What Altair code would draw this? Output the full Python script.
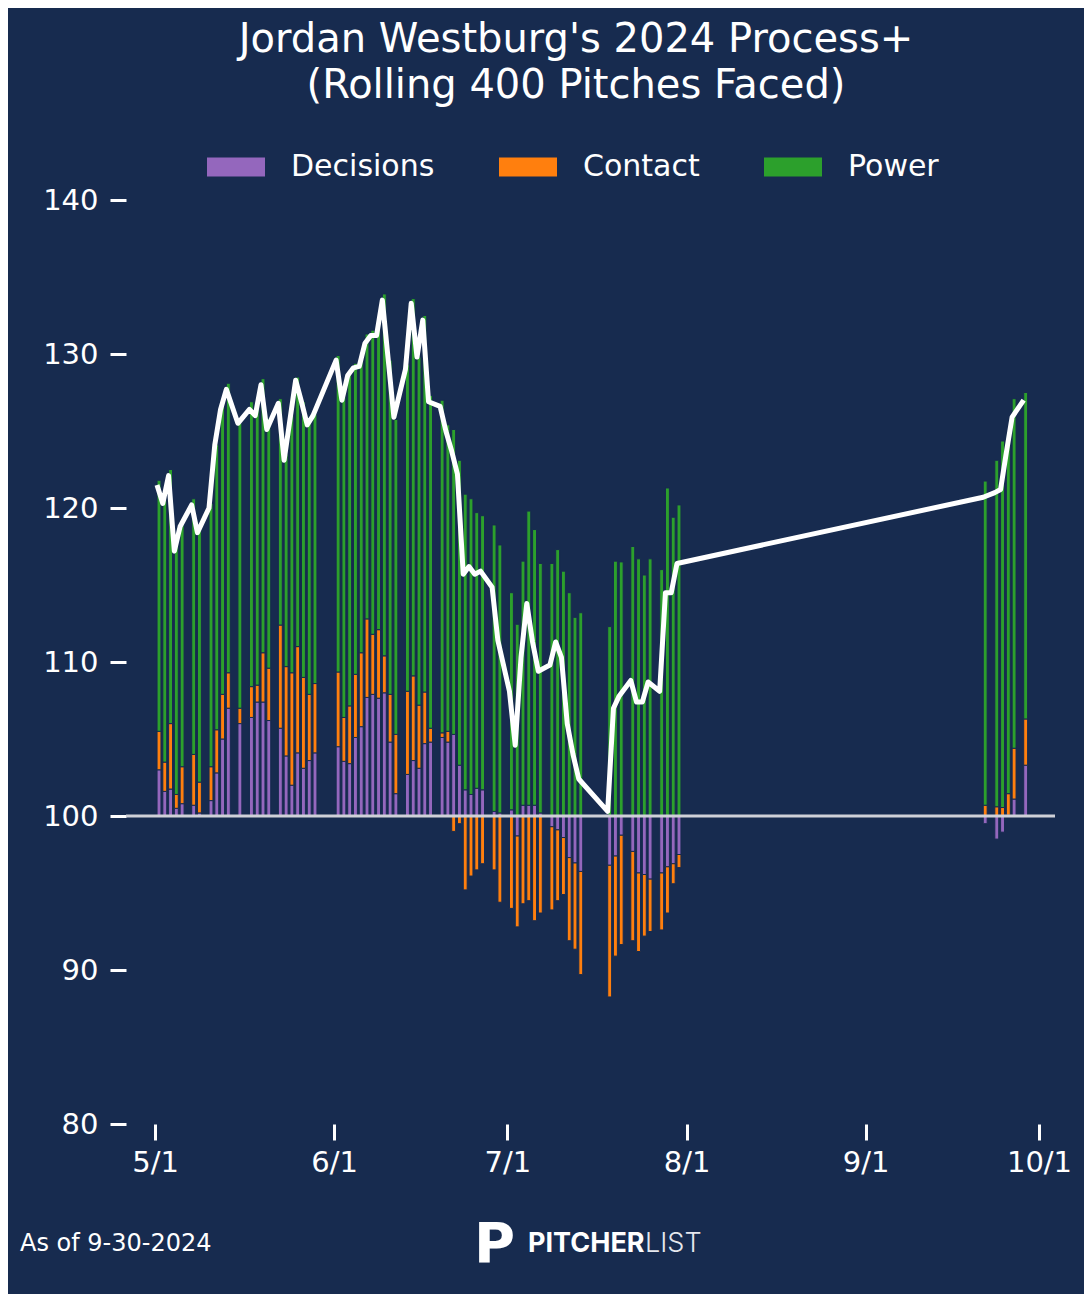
import altair as alt
import pandas as pd

# ---- data ----
dates = [
    "2024-05-01", "2024-05-02", "2024-05-03", "2024-05-04", "2024-05-05", "2024-05-07",
    "2024-05-08", "2024-05-10", "2024-05-11", "2024-05-12", "2024-05-13", "2024-05-15",
    "2024-05-17", "2024-05-18", "2024-05-19", "2024-05-20", "2024-05-22", "2024-05-23",
    "2024-05-24", "2024-05-25", "2024-05-26", "2024-05-27", "2024-05-28",
    "2024-06-01", "2024-06-02", "2024-06-03", "2024-06-04", "2024-06-05", "2024-06-06",
    "2024-06-07", "2024-06-08", "2024-06-09", "2024-06-10", "2024-06-11", "2024-06-13",
    "2024-06-14", "2024-06-15", "2024-06-16", "2024-06-17", "2024-06-19", "2024-06-20",
    "2024-06-21", "2024-06-22", "2024-06-23", "2024-06-24", "2024-06-25", "2024-06-26",
    "2024-06-28", "2024-06-29",
    "2024-07-01", "2024-07-02", "2024-07-03", "2024-07-04", "2024-07-05", "2024-07-06",
    "2024-07-08", "2024-07-09", "2024-07-10", "2024-07-11", "2024-07-12", "2024-07-13",
    "2024-07-18", "2024-07-19", "2024-07-20", "2024-07-22", "2024-07-23", "2024-07-24",
    "2024-07-25", "2024-07-27", "2024-07-28", "2024-07-29", "2024-07-30",
    "2024-09-21", "2024-09-23", "2024-09-24", "2024-09-25", "2024-09-26", "2024-09-28",
]

# contributions (points above / below 100)
decisions = [
    3.0, 1.6, 1.75, 0.5, 0.8, 0.7, 0.2, 1.0, 2.8, 5.0, 7.0, 6.0,
    6.4, 7.4, 7.4, 6.2, 5.7, 3.9, 2.0, 4.1, 3.1, 3.6, 4.1,
    4.5, 3.55, 3.4, 5.1, 5.8, 7.7, 7.9, 7.65, 8.0, 4.8, 1.45, 2.7,
    3.6, 3.1, 4.7, 4.8, 5.1, 4.8, 5.3, 3.3, 1.7, 1.4, 1.8, 1.7,
    0.3, 0.2,
    0.4, -1.3, 0.7, 0.7, 0.7, 0.2, -0.7, -0.9, -1.4, -2.7, -3.05, -3.6,
    -3.2, -2.6, -1.25, -2.3, -3.7, -3.8, -4.1, -3.7, -3.3, -3.1, -2.5,
    -0.5, -1.5, -1.05, 0.05, 1.1, 3.3,
]
contact = [
    2.5, 1.9, 4.25, 0.9, 2.4, 3.3, 2.0, 2.2, 2.8, 2.9, 2.3, 1.0,
    2.0, 1.1, 3.2, 3.4, 6.7, 5.8, 7.3, 6.9, 5.9, 4.3, 4.5,
    4.85, 2.85, 3.75, 4.1, 4.8, 5.1, 3.9, 4.45, 2.4, 3.1, 3.85, 5.4,
    5.5, 4.1, 3.35, 0.9, 0.3, 0.7, -1.0, -0.5, -4.8, -3.9, -3.5, -3.1,
    -3.5, -5.6,
    -6.0, -5.9, -5.7, -5.5, -6.8, -6.3, -5.4, -4.6, -3.7, -5.4, -5.6, -6.7,
    -8.55, -6.5, -7.1, -5.8, -5.1, -4.0, -3.4, -3.7, -3.0, -1.3, -0.85,
    0.7, 0.6, 0.55, 1.4, 3.3, 3.0,
]
power = [
    16.3, 17.0, 16.5, 16.2, 15.7, 16.6, 16.5, 17.1, 18.5, 19.0, 18.8, 18.5,
    18.5, 18.2, 17.8, 16.2, 14.7, 13.8, 16.7, 17.5, 17.9, 17.7, 17.5,
    20.55, 20.8, 21.75, 20.2, 19.0, 18.5, 19.75, 19.7, 23.5, 21.7, 20.45, 21.2,
    24.5, 22.6, 24.45, 21.6, 21.6, 19.9, 19.8, 19.8, 19.2, 19.2, 17.9, 17.8,
    18.6, 17.4,
    14.1, 12.45, 15.85, 19.1, 17.9, 16.2, 16.4, 17.3, 15.9, 14.5, 12.9, 13.2,
    12.3, 16.55, 16.5, 17.5, 16.7, 15.65, 16.7, 16.0, 21.3, 19.4, 20.2,
    21.05, 22.5, 23.8, 23.3, 22.7, 21.2,
]
# Process+ (white line)
process_plus = [
    121.5, 120.3, 122.1, 117.2, 118.8, 120.2, 118.4, 120.0, 124.1, 126.4, 127.7, 125.5,
    126.4, 126.0, 128.0, 125.1, 126.8, 123.1, 125.7, 128.3, 126.9, 125.4, 126.0,
    129.6, 127.0, 128.6, 129.1, 129.2, 130.7, 131.2, 131.2, 133.5, 129.7, 125.9, 129.0,
    133.3, 129.8, 132.2, 126.9, 126.6, 125.0, 123.7, 122.2, 115.7, 116.2, 115.7, 115.9,
    114.85, 111.4,
    108.1, 104.6, 110.3, 113.8, 111.3, 109.4, 109.8, 111.3, 110.3, 106.0, 104.0, 102.4,
    100.3, 107.0, 107.8, 108.8, 107.4, 107.4, 108.7, 108.1, 114.5, 114.5, 116.4,
    120.7, 121.0, 121.2, 123.6, 125.9, 127.0,
]

components = ["Decisions", "Contact", "Power"]
colors = ["#9467bd", "#ff7f0e", "#2ca02c"]
month_ticks = [5, 6, 7, 8, 9, 10]

BG = "#172b4f"
FONT = "DejaVu Sans"

# ---- tables ----
rows = []
for i, d in enumerate(dates):
    for k, (name, series) in enumerate(zip(components, [decisions, contact, power])):
        rows.append({"date": d + "T00:00:00", "component": name, "value": series[i], "ord": k})
bars_df = pd.DataFrame(rows)
line_df = pd.DataFrame({"date": [d + "T00:00:00" for d in dates], "process": process_plus})

x_scale = alt.Scale(
    domain=[
        alt.DateTime(year=2024, month=4, date=25, hours=23, minutes=31),
        alt.DateTime(year=2024, month=10, date=3, hours=18, minutes=30),
    ],
    nice=False,
    padding=0,
)
x_enc = alt.X(
    "date:T",
    scale=x_scale,
    axis=alt.Axis(
        values=[alt.DateTime(year=2024, month=m, date=1) for m in month_ticks],
        format="%-m/%-d",
        labelPadding=8,
    ),
    title=None,
)
y_scale = alt.Scale(domain=[-20, 40], nice=False, zero=False)
y_axis = alt.Axis(values=[-20, -10, 0, 10, 20, 30, 40], labelExpr="datum.value + 100", labelPadding=12)

bars = (
    alt.Chart(bars_df)
    .mark_bar(size=3.9, stroke=BG, strokeWidth=1, xOffset=4)
    .encode(
        x=x_enc,
        y=alt.Y("value:Q", stack="zero", scale=y_scale, axis=y_axis, title=None),
        color=alt.Color(
            "component:N",
            scale=alt.Scale(domain=components, range=colors),
            legend=alt.Legend(
                orient="none",
                legendX=81,
                legendY=-62,
                direction="horizontal",
                title=None,
                symbolType="M-1,-0.33L1,-0.33L1,0.33L-1,0.33Z",
                symbolSize=3364,
                symbolStrokeWidth=0,
                symbolOpacity=1,
                labelFont=FONT,
                labelFontSize=30,
                labelColor="white",
                labelOffset=26,
                columnPadding=64,
                padding=0,
                labelLimit=0,
            ),
            sort=components,
        ),
        order=alt.Order("ord:Q"),
    )
)

baseline = alt.Chart(pd.DataFrame({"v": [0]})).mark_rule(color="#cfd1d8", strokeWidth=3).encode(
    y=alt.Y("v:Q", scale=y_scale)
)

line = (
    alt.Chart(line_df)
    .transform_calculate(dev="datum.process - 100")
    .mark_line(color="white", strokeWidth=5, strokeJoin="round", xOffset=2)
    .encode(x=alt.X("date:T", scale=x_scale), y=alt.Y("dev:Q", scale=y_scale))
)

title_df = pd.DataFrame({"t": ["title"]})
title = alt.Chart(title_df).mark_text(
    font=FONT, fontSize=40, color="white", align="center", baseline="alphabetic", lineHeight=46
).encode(
    x=alt.value(450),
    y=alt.value(-148),
    text=alt.value(["Jordan Westburg's 2024 Process+", "(Rolling 400 Pitches Faced)"]),
)

footer = alt.Chart(title_df).mark_text(
    font=FONT, fontSize=24, color="white", align="left", baseline="alphabetic"
).encode(x=alt.value(-106), y=alt.value(1051), text=alt.value("As of 9-30-2024"))

logo_p = alt.Chart(title_df).mark_text(
    font=FONT, fontSize=56, fontWeight="bold", color="white", align="left", baseline="alphabetic"
).encode(x=alt.value(348), y=alt.value(1062), text=alt.value("P"))

logo_a = alt.Chart(title_df).mark_text(
    font="Inter", fontSize=27, fontWeight=700, color="white", align="left", baseline="alphabetic"
).encode(x=alt.value(402), y=alt.value(1052), text=alt.value("PITCHER"))

logo_b = alt.Chart(title_df).mark_text(
    font="Inter", fontSize=27, fontWeight=300, color="#e6e8ee", align="left", baseline="alphabetic"
).encode(x=alt.value(519), y=alt.value(1052), text=alt.value("LIST"))

chart = (
    alt.layer(bars, baseline, line, title, footer, logo_p, logo_a, logo_b)
    .properties(
        width=929,
        height=924,
        autosize=alt.AutoSizeParams(type="none"),
        padding={"left": 118, "top": 192, "right": 29, "bottom": 170},
        background=BG,
    )
    .configure_view(stroke=None)
    .configure_axis(
        domain=False,
        grid=False,
        labelFont=FONT,
        labelFontSize=29,
        labelColor="white",
        tickColor="white",
        tickWidth=3,
        tickSize=16,
    )
)

chart.save("out.html", embed_options={"renderer": "svg", "actions": False})
